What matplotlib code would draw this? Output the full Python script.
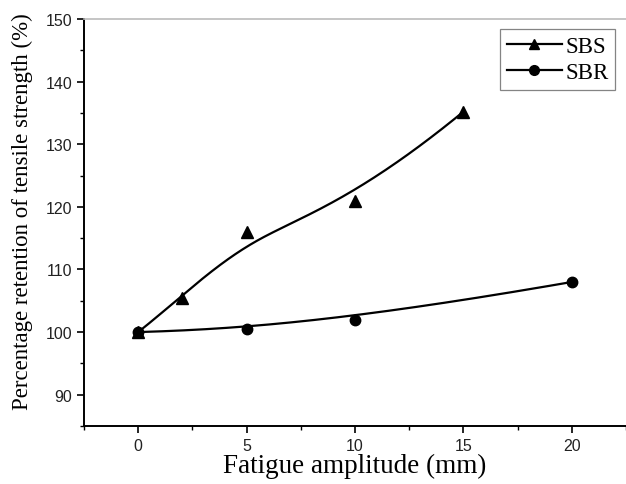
import numpy as np
import matplotlib
matplotlib.use("Agg")
import matplotlib.pyplot as plt
from matplotlib.ticker import MultipleLocator

# ---- data ----
sbs_x = [0, 2, 5, 10, 15]
sbs_y = [100, 105.5, 116, 121, 135.2]
sbr_x = [0, 5, 10, 20]
sbr_y = [100, 100.5, 102, 108]
x_ticks = [0, 5, 10, 15, 20]
y_ticks = [90, 100, 110, 120, 130, 140, 150]


def bspline(px, py, k=3, n=300):
    """Clamped B-spline using the data points as control points (de Boor)."""
    P = np.column_stack([px, py]).astype(float)
    m = len(P)
    k = min(k, m - 1)
    inner = np.linspace(0, 1, m - k + 1)[1:-1]
    t = np.concatenate([np.zeros(k + 1), inner, np.ones(k + 1)])
    us = np.linspace(0, 1, n)
    out = []
    for u in us:
        if u >= 1:
            out.append(P[-1]); continue
        j = np.searchsorted(t, u, side='right') - 1
        d = [P[j - k + i].copy() for i in range(k + 1)]
        for r in range(1, k + 1):
            for i in range(k, r - 1, -1):
                a = (u - t[j - k + i]) / (t[i + 1 + j - r] - t[j - k + i])
                d[i] = (1 - a) * d[i - 1] + a * d[i]
        out.append(d[k])
    out = np.array(out)
    return out[:, 0], out[:, 1]


fig = plt.figure(figsize=(6.26, 4.85), dpi=100)
ax = fig.add_axes([84 / 626, 1 - 427 / 485, 1 - 84 / 626, (427 - 20) / 485])

bx, by = bspline(sbs_x, sbs_y)
ax.plot(bx, by, color='black', lw=1.6, zorder=2)
ax.plot(sbs_x, sbs_y, ls='none', marker='^', ms=8, color='black', zorder=3)
cx, cy = bspline(sbr_x, sbr_y)
ax.plot(cx, cy, color='black', lw=1.6, zorder=2)
ax.plot(sbr_x, sbr_y, ls='none', marker='o', ms=7.5, color='black', zorder=3)

# legend handles
ax.plot([], [], color='black', lw=1.6, marker='^', ms=7, label='SBS')
ax.plot([], [], color='black', lw=1.6, marker='o', ms=7, label='SBR')
leg = ax.legend(loc='upper right', bbox_to_anchor=(0.98, 0.975), frameon=True, fancybox=False,
                edgecolor='#666666', handlelength=2.4, handletextpad=0.15, borderpad=0.3,
                borderaxespad=0.0, labelspacing=0.2,
                prop={'family': 'Liberation Serif', 'size': 16.5})
leg.get_frame().set_linewidth(0.9)

ax.set_xlim(-2.5, 22.5)
ax.set_ylim(85, 150)
ax.set_xticks(x_ticks)
ax.set_yticks(y_ticks)
ax.xaxis.set_minor_locator(MultipleLocator(2.5))
ax.yaxis.set_minor_locator(MultipleLocator(5))
ax.tick_params(which='major', direction='out', length=5, width=1.2, labelsize=11.5, colors='black')
ax.tick_params(which='minor', direction='out', length=3, width=1.0)
for lab in ax.get_xticklabels() + ax.get_yticklabels():
    lab.set_family('Liberation Sans')
    lab.set_color('#222222')

ax.spines['left'].set_linewidth(1.4)
ax.spines['bottom'].set_linewidth(1.4)
ax.spines['top'].set_color('#bbbbbb')
ax.spines['top'].set_linewidth(1.2)
ax.spines['right'].set_visible(False)

ax.set_xlabel('Fatigue amplitude (mm)', family='Liberation Serif', fontsize=19.5, labelpad=0)
ax.set_ylabel('Percentage retention of tensile strength (%)', family='Liberation Serif',
              fontsize=16.5)
ax.yaxis.set_label_coords(-0.094, 0.528)

fig.savefig('out.png', dpi=100)
